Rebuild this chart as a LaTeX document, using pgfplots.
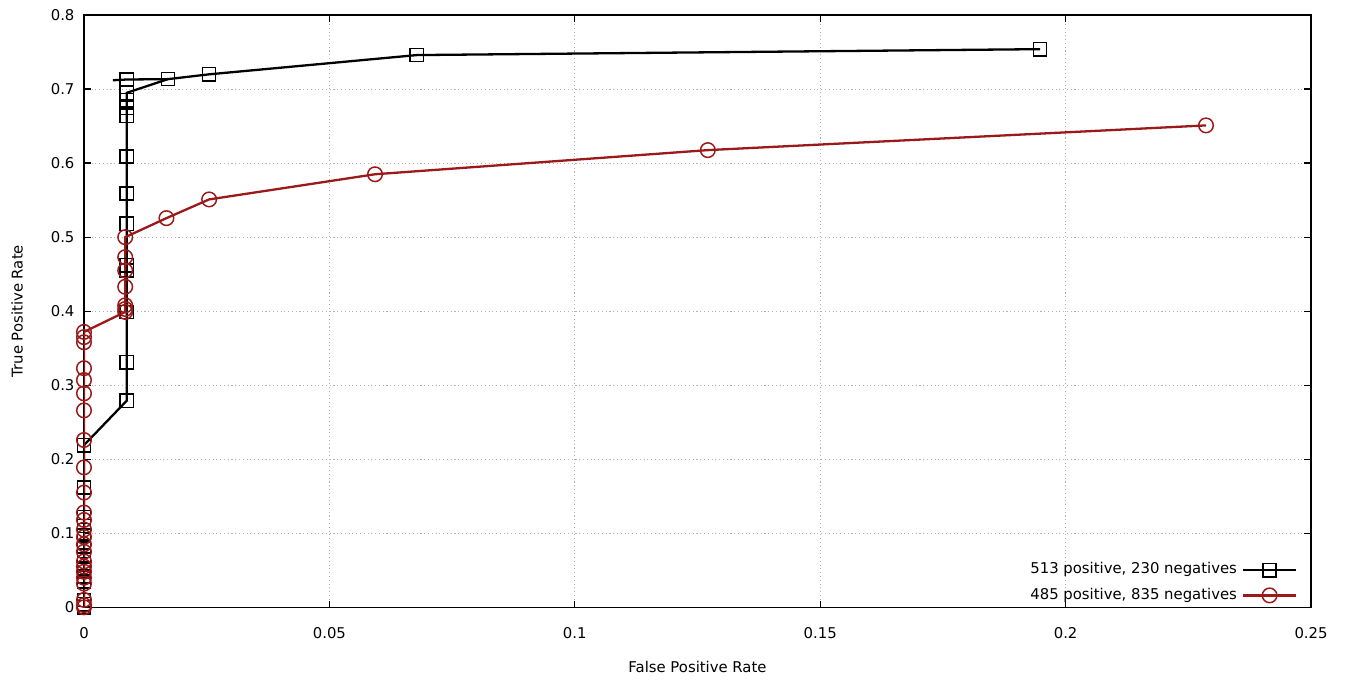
\documentclass[border=0pt]{standalone}
\usepackage{pgfplots}
\pgfplotsset{compat=1.18}
\usepackage{fontspec}
\setmainfont{DejaVu Sans}
\definecolor{myred}{RGB}{155,25,25}
\begin{document}
\begin{tikzpicture}
\begin{axis}[
  scale only axis, width=454.4pt, height=219.3pt,
  xmin=0, xmax=0.25, ymin=0, ymax=0.8,
  xtick={0,0.05,0.1,0.15,0.2,0.25},
  ytick={0,0.1,0.2,0.3,0.4,0.5,0.6,0.7,0.8},
  grid=major, major grid style={densely dotted, gray!60, line width=0.3pt},
  tick align=inside, major tick length=2.5pt,
  axis line style={line width=0.5pt},
  tick style={line width=0.5pt, black},
  tick label style={font=\fontsize{5.5}{6}\selectfont},
  label style={font=\fontsize{5.5}{6}\selectfont},
  /pgf/number format/fixed, /pgf/number format/assume math mode=true,
  scaled ticks=false,
  xticklabel style={yshift=-4pt},
  yticklabel style={xshift=0pt},
  xlabel={False Positive Rate}, ylabel={True Positive Rate},
  xlabel style={yshift=-1.5pt},
  ylabel style={yshift=3.5pt},
  legend style={draw=none, fill=none, at={(0.9955,-0.012)}, anchor=south east,
    font=\fontsize{5.5}{6.6}\selectfont, row sep=-0.4pt},
  legend cell align=right,
  legend plot pos=right,
  legend image code/.code={\draw[mark repeat=2,mark phase=2,#1] plot coordinates {(0cm,0cm) (0.34cm,0cm) (0.68cm,0cm)};},
]
\addplot[black, line width=0.85pt, mark=square, mark size=2.45pt, mark options={line width=0.55pt}] coordinates {
(0,0) (0,0.004) (0,0.01) (0,0.035) (0,0.042) (0,0.05) (0,0.058) (0,0.07) (0,0.082) (0,0.097) (0,0.11) (0,0.122) (0,0.162) (0,0.219)
(0.0087,0.279) (0.0087,0.331) (0.0087,0.399) (0.0087,0.455) (0.0087,0.462) (0.0087,0.518) (0.0087,0.559) (0.0087,0.609)
(0.0087,0.664) (0.0087,0.675) (0.0087,0.685) (0.0087,0.695)
(0.0171,0.7135) (0.0255,0.720) (0.0678,0.746) (0.1948,0.754)
};
\addlegendentry{513 positive, 230 negatives}
\addplot[black, line width=0.85pt, mark=square, mark size=2.45pt, mark options={line width=0.55pt}, mark indices={2}, forget plot] coordinates {
(0.0059,0.712) (0.0087,0.713) (0.0171,0.7135)
};
\addplot[myred, line width=0.85pt, mark=o, mark size=2.7pt, mark options={line width=0.55pt}] coordinates {
(0,0) (0,0.003) (0,0.01) (0,0.032) (0,0.04) (0,0.048) (0,0.055) (0,0.062) (0,0.075) (0,0.085) (0,0.095) (0,0.105) (0,0.118) (0,0.128) (0,0.155) (0,0.189)
(0,0.226) (0,0.266) (0,0.289) (0,0.307) (0,0.323) (0,0.358) (0,0.365) (0,0.372)
(0.0084,0.399) (0.0084,0.403) (0.0084,0.408) (0.0084,0.433) (0.0084,0.455) (0.0084,0.473) (0.0084,0.500)
(0.0168,0.5257) (0.0255,0.551) (0.0593,0.585) (0.1271,0.6176) (0.2286,0.651)
};
\addlegendentry{485 positive, 835 negatives}
\end{axis}
\path ([xshift=-31.1pt,yshift=-26.7pt]current axis.south west) rectangle ([xshift=14.8pt,yshift=5.6pt]current axis.north east);
\end{tikzpicture}
\end{document}
